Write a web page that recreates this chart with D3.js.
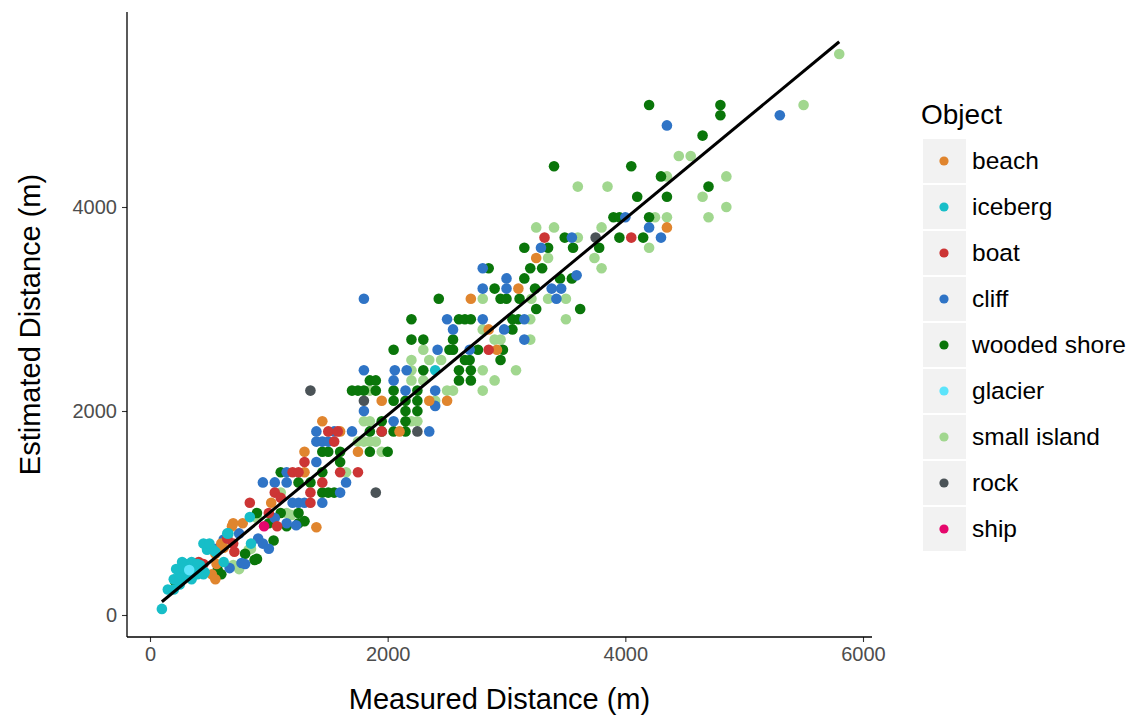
<!DOCTYPE html>
<html><head><meta charset="utf-8">
<script src="https://cdn.jsdelivr.net/npm/d3@7"></script>
<style>body{margin:0;background:#fff;}svg{display:block;}</style>
</head><body>
<svg id="c" width="1136" height="719"></svg>
<script>
// ---------- data ----------
const categories = ["beach","iceberg","boat","cliff","wooded shore","glacier","small island","rock","ship"];
const colors = ["#E0852E","#17BEC8","#CC3535","#2F74C6","#0A760A","#5CE4FB","#A1D78F","#4B5357","#E5076C"];
const xTicks = [0,2000,4000,6000];
const yTicks = [0,2000,4000];
const xTitle = "Measured Distance (m)";
const yTitle = "Estimated Distance (m)";
const legendTitle = "Object";

const smallIsland = [[700,490],[750,450],[830,640],[850,650],[900,950],[1190,980],[1150,1000],[1100,1200],[1650,1400],[1750,1700],[1800,1700],[1850,1700],[1900,1700],[1800,1900],[1850,1900],[1850,2200],[1950,1600],[2200,1900],[2250,1900],[2200,2300],[2300,2300],[2200,2400],[2200,2500],[2350,2500],[2450,2500],[2300,2600],[2400,2100],[2500,2200],[2550,2200],[2800,2200],[2800,2400],[2800,2800],[2800,3100],[2900,2300],[2900,2700],[2950,2700],[3080,2400],[3200,2700],[3200,2900],[3210,3100],[3350,3100],[3350,3500],[3500,2900],[3500,3100],[3250,3800],[3400,3800],[3600,3700],[3740,3500],[3800,3400],[3800,3800],[4200,3600],[4250,3900],[4350,3900],[4350,4300],[4450,4500],[4550,4500],[3600,4200],[3850,4200],[4650,4100],[4700,3900],[4850,4000],[4850,4300],[5500,5000],[5800,5500]];
const woodedShore = [[210,330],[570,440],[600,400],[800,600],[880,540],[900,550],[900,1000],[1040,730],[1100,1000],[1150,870],[1250,900],[1300,920],[1250,1000],[1000,900],[1100,1400],[1250,1300],[1350,1300],[1450,1200],[1500,1200],[1550,1200],[1450,1400],[1450,1600],[1500,1600],[1600,1600],[1600,1500],[1700,2200],[1750,2200],[1800,2200],[1850,1600],[1850,1800],[1850,2300],[1900,2200],[1900,2300],[1950,1800],[1950,1900],[2000,1600],[2050,1800],[2050,2100],[2050,2200],[2050,2600],[2150,1800],[2150,1900],[2150,2000],[2150,2100],[2200,2700],[2200,2900],[2250,2000],[2250,2100],[2250,2200],[2300,2400],[2300,2700],[2430,3100],[2520,2600],[2550,2600],[2550,2700],[2600,2300],[2600,2400],[2600,2900],[2650,2500],[2650,2900],[2700,2300],[2700,2400],[2700,2900],[2690,2500],[2760,2600],[2850,3400],[2900,3200],[2950,2500],[2970,2600],[2950,3100],[3000,3100],[3050,2800],[3050,2900],[3100,2900],[3110,3100],[3150,3300],[3150,3600],[3200,3400],[3240,3200],[3250,3000],[3300,3400],[3350,3600],[3450,3300],[3490,3700],[3550,3300],[3560,3600],[3620,3000],[3780,3600],[3900,3900],[3950,3900],[3950,3700],[4150,3700],[4200,3900],[4100,4100],[4350,4100],[4300,4300],[3400,4400],[4050,4400],[4700,4200],[4650,4700],[4200,5000],[4800,5000],[4800,4900]];
const cliff = [[560,650],[620,740],[650,750],[670,460],[750,800],[770,510],[800,500],[910,750],[950,700],[1000,650],[1230,880],[1150,900],[1050,950],[950,1300],[1050,1300],[1150,1300],[1200,1100],[1250,1100],[1300,1100],[1450,1100],[1600,1200],[1650,1300],[1400,1500],[1400,1700],[1450,1700],[1500,1700],[1400,1800],[1550,1800],[1700,1800],[1150,1400],[1800,2000],[1800,2400],[1800,3100],[2050,1900],[2050,2300],[2060,2400],[2160,2400],[2150,2200],[2350,1800],[2400,2050],[2400,2200],[2420,2600],[2500,2900],[2550,2800],[2690,2600],[2800,2900],[2800,3200],[2800,3400],[2980,2800],[3000,3200],[3000,3300],[3150,2700],[3150,2900],[3290,3600],[3380,3200],[3460,3200],[3420,3100],[3590,3330],[3550,3700],[4000,3900],[4200,3800],[4300,3700],[4350,4800],[5300,4900]];
const beach = [[560,500],[520,400],[550,350],[550,600],[600,700],[620,660],[690,870],[780,900],[700,900],[1020,1100],[1400,860],[1300,1600],[1300,1400],[1450,1900],[1600,1800],[1750,1600],[1950,2100],[2100,1800],[2350,2100],[2500,2100],[2700,3100],[2850,2800],[2920,2600],[3100,3200],[3250,3500],[4350,3800]];
const boat = [[410,520],[450,500],[650,750],[710,620],[700,700],[840,1100],[1000,1000],[1070,870],[1050,1200],[1100,1150],[1200,1400],[1250,1400],[1350,1200],[1350,1100],[1450,1300],[1300,1500],[1500,1800],[1550,1700],[1580,1800],[1600,1400],[1750,1400],[1950,1800],[2850,2600],[3320,3700],[4050,3700]];
const iceberg = [[100,60],[150,250],[200,250],[250,300],[300,380],[200,350],[250,350],[350,350],[270,520],[350,520],[320,420],[420,490],[460,420],[480,640],[530,640],[300,500],[350,500],[400,500],[250,400],[300,400],[350,400],[400,400],[450,400],[450,700],[500,700],[550,620],[620,520],[660,800],[650,800],[840,960],[850,700],[2400,2400],[220,450],[280,460],[380,450]];
const glacier = [[330,440]];
const rock = [[1350,2200],[1800,2100],[1900,1200],[2250,1800],[3750,3700]];
const ship = [[960,870]];
const lineX = [100,5800];
const lineY = [130,5620];

const seriesByCat = {"beach":beach,"iceberg":iceberg,"boat":boat,"cliff":cliff,"wooded shore":woodedShore,"glacier":glacier,"small island":smallIsland,"rock":rock,"ship":ship};
const drawOrder = ["small island","wooded shore","cliff","beach","boat","iceberg","glacier","rock","ship"];

// ---------- layout ----------
const svg = d3.select("#c");
const panel = {l:127, r:872, t:12, b:637};
const x = d3.scaleLinear().domain([0,6000]).range([150,863]);
const y = d3.scaleLinear().domain([0,4000]).range([615,207]);
const color = d3.scaleOrdinal().domain(categories).range(colors);
const FONT = "'Liberation Sans', Arial, sans-serif";

// points
const pts = [];
drawOrder.forEach(c => seriesByCat[c].forEach(d => pts.push({c, x:d[0], y:d[1]})));
svg.append("g").selectAll("circle").data(pts).join("circle")
  .attr("cx", d => x(d.x)).attr("cy", d => y(d.y)).attr("r", 5.3)
  .attr("fill", d => color(d.c));

// fitted line
const lineData = lineX.map((v,i)=>[v,lineY[i]]);
svg.append("path").datum(lineData)
  .attr("d", d3.line().x(d=>x(d[0])).y(d=>y(d[1])))
  .attr("fill","none").attr("stroke","#000").attr("stroke-width",3);

// axes
const xAxis = svg.append("g").attr("transform",`translate(0,${panel.b})`)
  .call(d3.axisBottom(x).tickValues(xTicks).tickFormat(d3.format("d")).tickSize(5).tickPadding(5));
const yAxis = svg.append("g").attr("transform",`translate(${panel.l},0)`)
  .call(d3.axisLeft(y).tickValues(yTicks).tickFormat(d3.format("d")).tickSize(5).tickPadding(5));
[xAxis,yAxis].forEach(g=>{
  g.select(".domain").remove();
  g.selectAll(".tick line").attr("stroke","#333").attr("stroke-width",1.1);
  g.selectAll(".tick text").attr("fill","#4D4D4D").attr("font-family",FONT).attr("font-size",20);
});
svg.append("line").attr("x1",panel.l).attr("x2",panel.r).attr("y1",panel.b).attr("y2",panel.b).attr("stroke","#000").attr("stroke-width",1.3);
svg.append("line").attr("x1",panel.l).attr("x2",panel.l).attr("y1",panel.t).attr("y2",panel.b).attr("stroke","#000").attr("stroke-width",1.3);

// titles
svg.append("text").attr("x",(panel.l+panel.r)/2).attr("y",709).attr("text-anchor","middle")
  .attr("font-family",FONT).attr("font-size",29).attr("fill","#000").text(xTitle);
svg.append("text").attr("transform",`translate(40,${(panel.t+panel.b)/2}) rotate(-90)`).attr("text-anchor","middle")
  .attr("font-family",FONT).attr("font-size",29).attr("fill","#000").text(yTitle);

// legend
const lg = svg.append("g");
lg.append("text").attr("x",921).attr("y",124).attr("font-family",FONT).attr("font-size",28).attr("fill","#000").text(legendTitle);
categories.forEach((c,i)=>{
  const cy = 161 + i*46;
  lg.append("rect").attr("x",923).attr("y",cy-22).attr("width",43).attr("height",44).attr("fill","#F2F2F2");
  lg.append("circle").attr("cx",944).attr("cy",cy).attr("r",4.6).attr("fill",color(c));
  lg.append("text").attr("x",972).attr("y",cy+8).attr("font-family",FONT).attr("font-size",24.5).attr("fill","#000").text(c);
});
</script>
</body></html>
